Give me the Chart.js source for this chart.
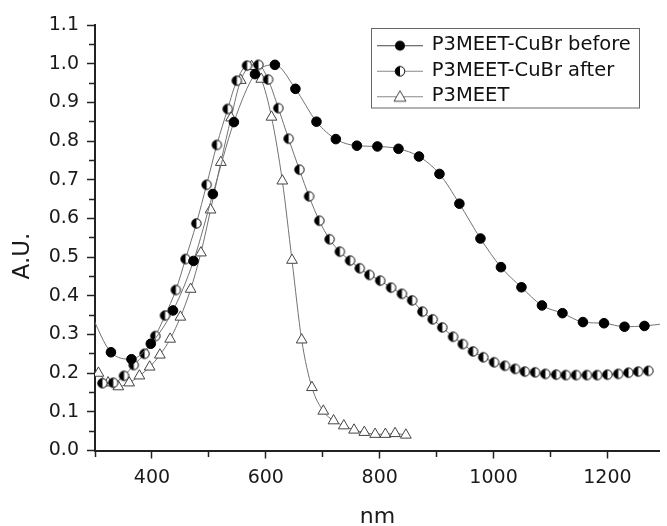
<!DOCTYPE html>
<html>
<head>
<meta charset="utf-8">
<script src="https://cdn.jsdelivr.net/npm/chart.js@4.4.1/dist/chart.umd.min.js"></script>
<style>
    html, body { margin: 0; padding: 0; background: #fff; overflow: hidden; }
</style>
</head>
<body>
<canvas id="myChart" width="667" height="526"></canvas>
<script>
// valeurs (nm / A.U.)
const beforeNm = [292, 328, 364, 398, 437, 473, 507, 544, 581, 616, 652, 689, 723, 760, 796, 833, 869, 905, 940, 977, 1013, 1049, 1085, 1121, 1157, 1194, 1230, 1265, 1301];
const beforeAU = [0.355, 0.254, 0.236, 0.276, 0.362, 0.490, 0.663, 0.849, 0.973, 0.997, 0.935, 0.850, 0.805, 0.788, 0.786, 0.780, 0.760, 0.715, 0.638, 0.548, 0.474, 0.422, 0.375, 0.355, 0.332, 0.329, 0.320, 0.322, 0.328];

const afterNm = [313, 332, 351, 368, 387, 406, 423, 442, 459, 478, 496, 514, 533, 549, 567, 587, 604, 622, 640, 659, 676, 694, 712, 730, 748, 765, 782, 801, 820, 839, 857, 875, 893, 910, 929, 946, 964, 982, 1001, 1020, 1038, 1055, 1073, 1091, 1110, 1127, 1145, 1164, 1182, 1200, 1219, 1237, 1254, 1272];
const afterAU = [0.174, 0.175, 0.193, 0.221, 0.250, 0.296, 0.349, 0.415, 0.495, 0.587, 0.687, 0.790, 0.883, 0.956, 0.995, 0.997, 0.959, 0.885, 0.806, 0.726, 0.657, 0.594, 0.546, 0.514, 0.491, 0.471, 0.454, 0.439, 0.421, 0.405, 0.388, 0.359, 0.339, 0.318, 0.294, 0.275, 0.256, 0.241, 0.228, 0.219, 0.211, 0.204, 0.202, 0.198, 0.196, 0.195, 0.195, 0.195, 0.195, 0.196, 0.198, 0.201, 0.204, 0.206];

const p3meetNm = [306, 323, 341, 360, 378, 396, 414, 432, 450, 468, 486, 503, 521, 539, 556, 575, 592, 610, 629, 646, 663, 681, 701, 719, 737, 755, 773, 792, 810, 827, 846];
const p3meetAU = [0.200, 0.175, 0.165, 0.175, 0.193, 0.216, 0.247, 0.288, 0.345, 0.417, 0.511, 0.622, 0.745, 0.860, 0.957, 0.993, 0.960, 0.862, 0.697, 0.492, 0.286, 0.163, 0.102, 0.077, 0.064, 0.053, 0.047, 0.042, 0.042, 0.044, 0.040];

const seriesLabels = ['P3MEET-CuBr before', 'P3MEET-CuBr after', 'P3MEET'];

// graduations (les étiquettes seulement sur les majeures)
const xTicks = [300, 400, 500, 600, 700, 800, 900, 1000, 1100, 1200];
const xLabels = [400, 600, 800, 1000, 1200];
const yTicks = [0, 0.05, 0.1, 0.15, 0.2, 0.25, 0.3, 0.35, 0.4, 0.45, 0.5, 0.55, 0.6, 0.65, 0.7, 0.75, 0.8, 0.85, 0.9, 0.95, 1.0, 1.05, 1.1];
const yLabels = ['0.0', '0.1', '0.2', '0.3', '0.4', '0.5', '0.6', '0.7', '0.8', '0.9', '1.0', '1.1'];

const X_MIN = 300, X_MAX = 1292;
const FONT = 'DejaVu Sans';
const LINE_GREY = '#737373';

function toPoints(xs, ys) {
    return xs.map((x, i) => ({ x: x, y: ys[i] }));
}

// cercle à moitié rempli (gauche noire)
function drawHalfDot(g, cx, cy, r) {
    g.beginPath();
    g.arc(cx, cy, r, 0, 2 * Math.PI);
    g.fillStyle = '#fff';
    g.fill();
    g.beginPath();
    g.arc(cx, cy, r, Math.PI / 2, 3 * Math.PI / 2);
    g.closePath();
    g.fillStyle = '#000';
    g.fill();
    g.beginPath();
    g.arc(cx, cy, r, 0, 2 * Math.PI);
    g.lineWidth = 1;
    g.strokeStyle = '#000';
    g.stroke();
}

function halfDot(r) {
    const c = document.createElement('canvas');
    const s = Math.ceil(2 * r + 3);
    c.width = c.height = s;
    drawHalfDot(c.getContext('2d'), s / 2, s / 2, r);
    return c;
}

// petites images ligne + marqueur pour la légende
function legendIcon(kind, lineColor) {
    const c = document.createElement('canvas');
    c.width = 46;
    c.height = 16;
    const g = c.getContext('2d');
    g.strokeStyle = lineColor;
    g.lineWidth = 1;
    g.beginPath();
    g.moveTo(0, 8.5);
    g.lineTo(46, 8.5);
    g.stroke();
    if (kind === 'full') {
        g.beginPath();
        g.arc(23, 8.5, 5, 0, 2 * Math.PI);
        g.fillStyle = '#000';
        g.fill();
    } else if (kind === 'half') {
        drawHalfDot(g, 23, 8.5, 4.8);
    } else {
        g.beginPath();
        g.moveTo(23, 2.5);
        g.lineTo(29, 13);
        g.lineTo(17, 13);
        g.closePath();
        g.fillStyle = '#fff';
        g.fill();
        g.strokeStyle = '#444';
        g.stroke();
    }
    return c;
}

const legendIcons = [
    legendIcon('full', '#444'),
    legendIcon('half', '#888'),
    legendIcon('tri', '#888')
];

function pointSize(r) {
    return ctx => (ctx.raw && (ctx.raw.x < X_MIN || ctx.raw.x > X_MAX)) ? 0 : r;
}

function nearIn(v, list) {
    return list.some(t => Math.abs(Number(t) - v) < 1e-6);
}

// légende placée dans la zone du graphique, avec son cadre
const legendSpot = {
    id: 'legendSpot',
    afterLayout(chart) {
        const lg = chart.legend;
        lg.left = 372;
        lg.top = 29.5;
        lg.right = 640;
        lg.bottom = 140;
        lg.width = 268;
        lg.height = 110.5;
    },
    afterDraw(chart) {
        const ctx = chart.ctx;
        ctx.save();
        ctx.strokeStyle = '#666';
        ctx.lineWidth = 1;
        ctx.strokeRect(371.5, 28.5, 268, 79.5);
        ctx.restore();
    }
};

const ctx = document.getElementById('myChart');

const myChart = new Chart(ctx, {
    type: 'line',
    data: {
        datasets: [{
            label: seriesLabels[0],
            data: toPoints(beforeNm, beforeAU),
            borderColor: LINE_GREY,
            borderWidth: 1,
            cubicInterpolationMode: 'monotone',
            pointStyle: 'circle',
            pointRadius: pointSize(4.8),
            pointBackgroundColor: '#000',
            pointBorderColor: '#000',
            pointBorderWidth: 1,
        }, {
            label: seriesLabels[1],
            data: toPoints(afterNm, afterAU),
            borderColor: LINE_GREY,
            borderWidth: 1,
            cubicInterpolationMode: 'monotone',
            pointStyle: halfDot(4.7),
            pointRadius: 5,
        }, {
            label: seriesLabels[2],
            data: toPoints(p3meetNm, p3meetAU),
            borderColor: LINE_GREY,
            borderWidth: 1,
            cubicInterpolationMode: 'monotone',
            pointStyle: 'triangle',
            pointRadius: 6.2,
            pointBackgroundColor: '#fff',
            pointBorderColor: '#444',
            pointBorderWidth: 1,
        }]
    },
    options: {
        responsive: false,
        animation: false,
        devicePixelRatio: 1,
        layout: {
            padding: { top: 25, right: 0, left: 0, bottom: 0 }
        },
        plugins: {
            legend: {
                position: 'chartArea',
                align: 'start',
                labels: {
                    usePointStyle: true,
                    pointStyleWidth: 44,
                    padding: 6,
                    color: '#111',
                    font: { family: FONT, size: 19.5 },
                    generateLabels: chart => chart.data.datasets.map((ds, i) => ({
                        text: ds.label,
                        pointStyle: legendIcons[i],
                        datasetIndex: i,
                        hidden: false,
                        lineWidth: 0,
                        fontColor: '#111',
                        fillStyle: 'transparent',
                        strokeStyle: 'transparent'
                    }))
                }
            },
            tooltip: { enabled: false }
        },
        scales: {
            x: {
                type: 'linear',
                min: X_MIN,
                max: X_MAX,
                afterBuildTicks: scale => { scale.ticks = xTicks.map(v => ({ value: v })); },
                afterFit: scale => { scale.height = 75.5; },
                border: { display: true, color: '#222', width: 2 },
                grid: {
                    drawOnChartArea: false,
                    drawTicks: true,
                    tickLength: 8,
                    tickWidth: 1.5,
                    tickColor: '#222',
                    tickBorderDash: c => (c.tick && nearIn(c.tick.value, xLabels)) ? [] : [5, 100]
                },
                ticks: {
                    autoSkip: false,
                    maxRotation: 0,
                    padding: 8,
                    color: '#1a1a1a',
                    font: { family: FONT, size: 19 },
                    callback: v => nearIn(v, xLabels) ? String(v) : ''
                },
                title: {
                    display: true,
                    text: 'nm',
                    color: '#1a1a1a',
                    font: { family: FONT, size: 22, lineHeight: 0.8 },
                    padding: { top: 0, bottom: 0 }
                }
            },
            y: {
                min: 0,
                max: 1.1,
                afterBuildTicks: scale => { scale.ticks = yTicks.map(v => ({ value: v })); },
                afterFit: scale => { scale.width = 95; },
                border: { display: true, color: '#222', width: 2 },
                grid: {
                    drawOnChartArea: false,
                    drawTicks: true,
                    tickLength: 8,
                    tickWidth: 1.5,
                    tickColor: '#222',
                    tickBorderDash: c => (c.tick && nearIn(c.tick.value, yLabels)) ? [] : [0, 2, 5, 100]
                },
                ticks: {
                    autoSkip: false,
                    padding: 8,
                    color: '#1a1a1a',
                    font: { family: FONT, size: 19 },
                    callback: v => nearIn(v, yLabels) ? v.toFixed(1) : ''
                },
                title: {
                    display: true,
                    text: 'A.U.' + '\u00a0'.repeat(5),
                    color: '#1a1a1a',
                    font: { family: FONT, size: 23, lineHeight: 1 },
                    padding: { top: 12, bottom: 0 }
                }
            }
        }
    },
    plugins: [legendSpot]
});
</script>
</body>
</html>
